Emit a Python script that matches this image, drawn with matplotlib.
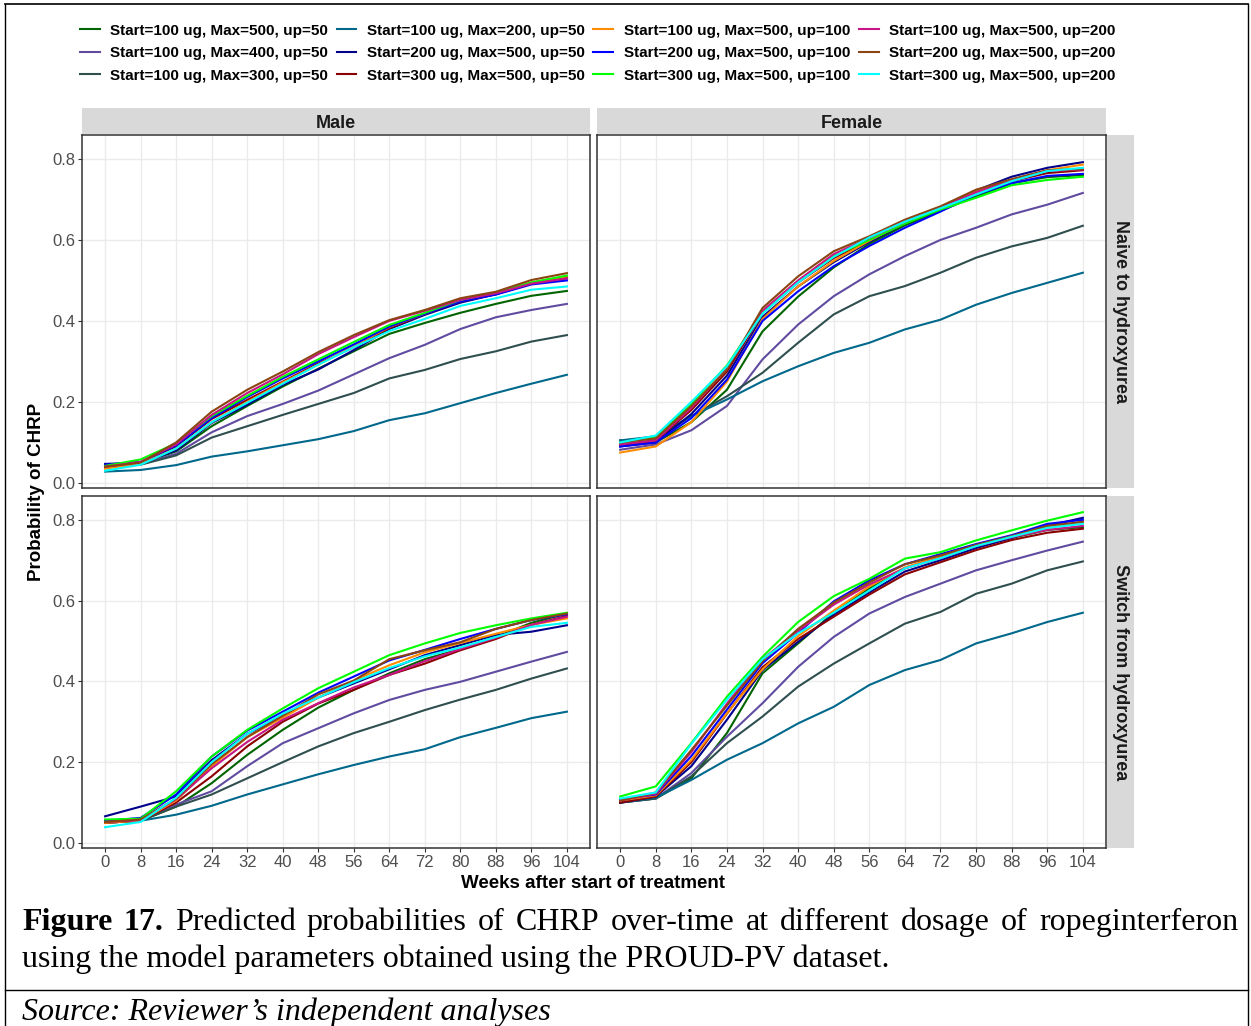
import numpy as np
import matplotlib.pyplot as plt
from matplotlib.lines import Line2D

plt.rcParams['font.family'] = 'Liberation Sans'

weeks = [0, 8, 16, 24, 32, 40, 48, 56, 64, 72, 80, 88, 96, 104]

labels = [
    "Start=100 ug, Max=500, up=50", "Start=100 ug, Max=400, up=50",
    "Start=100 ug, Max=300, up=50", "Start=100 ug, Max=200, up=50",
    "Start=200 ug, Max=500, up=50", "Start=300 ug, Max=500, up=50",
    "Start=100 ug, Max=500, up=100", "Start=200 ug, Max=500, up=100",
    "Start=300 ug, Max=500, up=100", "Start=100 ug, Max=500, up=200",
    "Start=200 ug, Max=500, up=200", "Start=300 ug, Max=500, up=200",
]
colors = ["#006400", "#604BA0", "#2F4F4F", "#00688B", "#00008B", "#8B0000",
          "#FF8C00", "#0000FF", "#00FF00", "#C71585", "#8B4513", "#00FFFF"]

# Male, naive to hydroxyurea
male_naive = [
    [0.040, 0.048, 0.078, 0.140, 0.190, 0.238, 0.282, 0.325, 0.368, 0.395, 0.420, 0.442, 0.462, 0.474],
    [0.040, 0.046, 0.072, 0.125, 0.165, 0.195, 0.228, 0.268, 0.308, 0.341, 0.380, 0.409, 0.427, 0.442],
    [0.040, 0.045, 0.068, 0.112, 0.140, 0.168, 0.195, 0.222, 0.258, 0.279, 0.306, 0.325, 0.349, 0.365],
    [0.028, 0.032, 0.044, 0.065, 0.078, 0.093, 0.108, 0.128, 0.155, 0.172, 0.197, 0.222, 0.245, 0.267],
    [0.047, 0.050, 0.080, 0.148, 0.193, 0.242, 0.280, 0.328, 0.380, 0.415, 0.445, 0.466, 0.492, 0.505],
    [0.040, 0.050, 0.090, 0.158, 0.205, 0.250, 0.295, 0.335, 0.382, 0.418, 0.448, 0.466, 0.492, 0.508],
    [0.035, 0.048, 0.085, 0.150, 0.200, 0.248, 0.292, 0.338, 0.385, 0.418, 0.452, 0.470, 0.495, 0.510],
    [0.045, 0.052, 0.092, 0.160, 0.212, 0.258, 0.300, 0.342, 0.386, 0.418, 0.448, 0.465, 0.490, 0.500],
    [0.042, 0.058, 0.098, 0.165, 0.215, 0.262, 0.305, 0.348, 0.390, 0.420, 0.452, 0.470, 0.495, 0.512],
    [0.040, 0.052, 0.095, 0.168, 0.222, 0.268, 0.318, 0.360, 0.400, 0.425, 0.452, 0.468, 0.492, 0.505],
    [0.040, 0.050, 0.100, 0.176, 0.230, 0.275, 0.323, 0.365, 0.402, 0.427, 0.456, 0.472, 0.501, 0.518],
    [0.030, 0.045, 0.085, 0.150, 0.198, 0.245, 0.292, 0.335, 0.375, 0.405, 0.437, 0.456, 0.477, 0.485],
]

# Female, naive to hydroxyurea
female_naive = [
    [0.095, 0.100, 0.150, 0.230, 0.374, 0.460, 0.532, 0.590, 0.636, 0.672, 0.708, 0.740, 0.755, 0.760],
    [0.082, 0.095, 0.130, 0.190, 0.305, 0.391, 0.461, 0.515, 0.560, 0.600, 0.630, 0.663, 0.687, 0.716],
    [0.105, 0.110, 0.165, 0.214, 0.272, 0.346, 0.416, 0.461, 0.486, 0.519, 0.556, 0.584, 0.605, 0.635],
    [0.105, 0.115, 0.165, 0.206, 0.251, 0.288, 0.321, 0.346, 0.379, 0.403, 0.440, 0.469, 0.494, 0.519],
    [0.090, 0.100, 0.170, 0.265, 0.410, 0.485, 0.545, 0.595, 0.640, 0.676, 0.722, 0.756, 0.778, 0.792],
    [0.095, 0.105, 0.180, 0.275, 0.420, 0.495, 0.555, 0.600, 0.640, 0.676, 0.712, 0.745, 0.765, 0.772],
    [0.075, 0.090, 0.150, 0.250, 0.405, 0.485, 0.548, 0.598, 0.643, 0.680, 0.722, 0.748, 0.772, 0.786],
    [0.090, 0.100, 0.160, 0.255, 0.400, 0.473, 0.535, 0.585, 0.630, 0.670, 0.712, 0.740, 0.758, 0.763],
    [0.100, 0.112, 0.195, 0.290, 0.420, 0.498, 0.560, 0.600, 0.640, 0.675, 0.704, 0.735, 0.748, 0.756],
    [0.095, 0.105, 0.185, 0.282, 0.425, 0.500, 0.565, 0.605, 0.645, 0.680, 0.718, 0.748, 0.770, 0.774],
    [0.100, 0.110, 0.190, 0.280, 0.432, 0.510, 0.572, 0.609, 0.650, 0.683, 0.724, 0.750, 0.772, 0.775],
    [0.100, 0.117, 0.200, 0.288, 0.418, 0.495, 0.558, 0.606, 0.645, 0.678, 0.712, 0.745, 0.770, 0.778],
]

# Male, switch from hydroxyurea
male_switch = [
    [0.052, 0.055, 0.090, 0.148, 0.218, 0.280, 0.335, 0.379, 0.420, 0.455, 0.480, 0.510, 0.545, 0.568],
    [0.050, 0.055, 0.095, 0.128, 0.190, 0.247, 0.284, 0.321, 0.354, 0.379, 0.399, 0.424, 0.449, 0.473],
    [0.050, 0.055, 0.090, 0.120, 0.160, 0.200, 0.239, 0.272, 0.300, 0.329, 0.355, 0.379, 0.407, 0.432],
    [0.050, 0.055, 0.070, 0.092, 0.120, 0.145, 0.170, 0.193, 0.214, 0.232, 0.262, 0.285, 0.309, 0.325],
    [0.066, 0.090, 0.115, 0.205, 0.270, 0.315, 0.360, 0.395, 0.430, 0.465, 0.490, 0.515, 0.523, 0.539],
    [0.050, 0.055, 0.100, 0.165, 0.239, 0.300, 0.345, 0.379, 0.416, 0.444, 0.477, 0.505, 0.540, 0.562],
    [0.050, 0.055, 0.105, 0.190, 0.262, 0.310, 0.360, 0.402, 0.440, 0.472, 0.495, 0.518, 0.540, 0.556],
    [0.055, 0.062, 0.120, 0.214, 0.278, 0.325, 0.372, 0.412, 0.452, 0.478, 0.505, 0.530, 0.552, 0.566],
    [0.058, 0.060, 0.128, 0.214, 0.280, 0.333, 0.383, 0.424, 0.465, 0.494, 0.520, 0.539, 0.556, 0.570],
    [0.052, 0.056, 0.108, 0.185, 0.250, 0.305, 0.346, 0.385, 0.416, 0.450, 0.480, 0.508, 0.540, 0.560],
    [0.052, 0.058, 0.110, 0.195, 0.262, 0.315, 0.368, 0.402, 0.455, 0.477, 0.497, 0.530, 0.552, 0.568],
    [0.039, 0.052, 0.112, 0.200, 0.270, 0.320, 0.360, 0.398, 0.433, 0.462, 0.484, 0.510, 0.535, 0.545],
]

# Female, switch from hydroxyurea
female_switch = [
    [0.100, 0.110, 0.160, 0.272, 0.420, 0.494, 0.570, 0.630, 0.680, 0.710, 0.735, 0.755, 0.775, 0.782],
    [0.100, 0.110, 0.173, 0.263, 0.346, 0.436, 0.510, 0.568, 0.609, 0.642, 0.675, 0.700, 0.724, 0.746],
    [0.100, 0.110, 0.165, 0.247, 0.313, 0.387, 0.444, 0.494, 0.543, 0.572, 0.617, 0.642, 0.675, 0.697],
    [0.100, 0.112, 0.156, 0.206, 0.247, 0.296, 0.337, 0.391, 0.428, 0.453, 0.494, 0.519, 0.547, 0.570],
    [0.100, 0.115, 0.190, 0.305, 0.428, 0.498, 0.565, 0.620, 0.672, 0.700, 0.730, 0.755, 0.785, 0.805],
    [0.100, 0.115, 0.200, 0.320, 0.435, 0.505, 0.560, 0.615, 0.665, 0.695, 0.725, 0.750, 0.768, 0.778],
    [0.105, 0.118, 0.205, 0.321, 0.430, 0.512, 0.575, 0.635, 0.682, 0.710, 0.738, 0.760, 0.780, 0.795],
    [0.108, 0.120, 0.215, 0.330, 0.445, 0.520, 0.598, 0.650, 0.690, 0.715, 0.740, 0.762, 0.790, 0.800],
    [0.115, 0.140, 0.247, 0.362, 0.461, 0.547, 0.611, 0.654, 0.704, 0.720, 0.749, 0.774, 0.798, 0.819],
    [0.105, 0.122, 0.225, 0.345, 0.455, 0.525, 0.590, 0.640, 0.680, 0.705, 0.735, 0.757, 0.775, 0.785],
    [0.105, 0.125, 0.230, 0.340, 0.450, 0.530, 0.595, 0.645, 0.690, 0.712, 0.738, 0.760, 0.785, 0.795],
    [0.110, 0.125, 0.245, 0.355, 0.455, 0.519, 0.570, 0.625, 0.680, 0.705, 0.735, 0.758, 0.780, 0.790],
]

sexes = ["Male", "Female"]
groups = ["Naive to hydroxyurea", "Switch from hydroxyurea"]
panels = [[male_naive, female_naive], [male_switch, female_switch]]

W, H = 1251, 1026
fig = plt.figure(figsize=(W / 100, H / 100), dpi=100)

def px(x0, y0, x1, y1):
    # pixel box (top-left origin) -> figure fraction rect
    return [x0 / W, 1 - y1 / H, (x1 - x0) / W, (y1 - y0) / H]

col_x = [(82, 590), (597, 1106)]
row_y = [(135, 488), (496, 848)]

for r in range(2):
    for c in range(2):
        ax = fig.add_axes(px(col_x[c][0], row_y[r][0], col_x[c][1], row_y[r][1]))
        for i, vals in enumerate(panels[r][c]):
            ax.plot(weeks, vals, color=colors[i], lw=1.5)
        ax.set_xlim(-5.2, 109.2)
        ax.set_ylim(-0.0125, 0.859)
        ax.set_xticks(range(0, 105, 8))
        ax.set_yticks([0, 0.2, 0.4, 0.6, 0.8])
        ax.set_yticklabels(["0.0", "0.2", "0.4", "0.6", "0.8"])
        ax.grid(True, color="#EBEBEB", lw=1)
        ax.set_axisbelow(True)
        for s in ax.spines.values():
            s.set_color("#333333")
            s.set_linewidth(1.1)
        ax.tick_params(colors="#333333", labelcolor="#4D4D4D", labelsize=12,
                       length=3, width=0.8, pad=2)
        if r == 0:
            ax.tick_params(axis="x", labelbottom=False, length=0)
        if c == 1:
            ax.tick_params(axis="y", labelleft=False, length=0)

        if r == 0:
            sax = fig.add_axes(px(col_x[c][0], 108, col_x[c][1], 134))
            sax.set_facecolor("#D9D9D9")
            sax.set_xticks([]); sax.set_yticks([])
            for s in sax.spines.values():
                s.set_visible(False)
            sax.text(0.5, 0.42, sexes[c], ha="center", va="center",
                     fontsize=13, fontweight="bold", color="#1A1A1A")
        if c == 1:
            sax = fig.add_axes(px(1107, row_y[r][0], 1134, row_y[r][1]))
            sax.set_facecolor("#D9D9D9")
            sax.set_xticks([]); sax.set_yticks([])
            for s in sax.spines.values():
                s.set_visible(False)
            sax.text(0.5, 0.5, groups[r], ha="center", va="center", rotation=-90,
                     fontsize=13, fontweight="bold", color="#1A1A1A")

fig.text(37 / W, 1 - 492 / H, "Probability of CHRP", rotation=90, ha="center",
         va="center", fontsize=13.5, fontweight="bold")
fig.text(593 / W, 1 - 884 / H, "Weeks after start of treatment", ha="center",
         va="center", fontsize=13.5, fontweight="bold")

handles = [Line2D([], [], color=col, lw=1.5) for col in colors]
fig.legend(handles, labels, ncol=4, loc="upper left",
           bbox_to_anchor=(66 / W, 1 - 10 / H), frameon=False,
           prop={"size": 11, "weight": "bold"}, handlelength=1.3,
           handletextpad=0.7, columnspacing=0.55, labelspacing=0.55)

# caption, first line justified across the box
renderer = fig.canvas.get_renderer()
line1 = [("Figure", "bold"), ("17.", "bold")] + [
    (w, "normal") for w in
    "Predicted probabilities of CHRP over-time at different dosage of ropeginterferon".split()]
cap_kw = dict(family="Liberation Serif", fontsize=23)
texts = [fig.text(0, 1 - 930 / H, w, fontweight=wt, va="baseline", **cap_kw)
         for w, wt in line1]
widths = [t.get_window_extent(renderer).width for t in texts]
left, right = 22, 1238
gap = (right - left - sum(widths)) / (len(texts) - 1)
x = left
for t, wd in zip(texts, widths):
    t.set_x(x / W)
    x += wd + gap

fig.text(22 / W, 1 - 967 / H,
         "using the model parameters obtained using the PROUD-PV dataset.",
         va="baseline", **cap_kw)
fig.text(22 / W, 1 - 1020 / H, "Source: Reviewer\u2019s independent analyses",
         va="baseline", style="italic", **cap_kw)

# table borders
fig.add_artist(Line2D([5 / W, 5 / W], [0, 1 - 4 / H], color="black", lw=1))
fig.add_artist(Line2D([1248 / W, 1248 / W], [0, 1 - 4 / H], color="black", lw=1))
fig.add_artist(Line2D([5 / W, 1248 / W], [1 - 4 / H, 1 - 4 / H], color="black", lw=1.2))
fig.add_artist(Line2D([5 / W, 1248 / W], [1 - 990 / H, 1 - 990 / H], color="black", lw=1))

fig.savefig("out.png", dpi=100)
